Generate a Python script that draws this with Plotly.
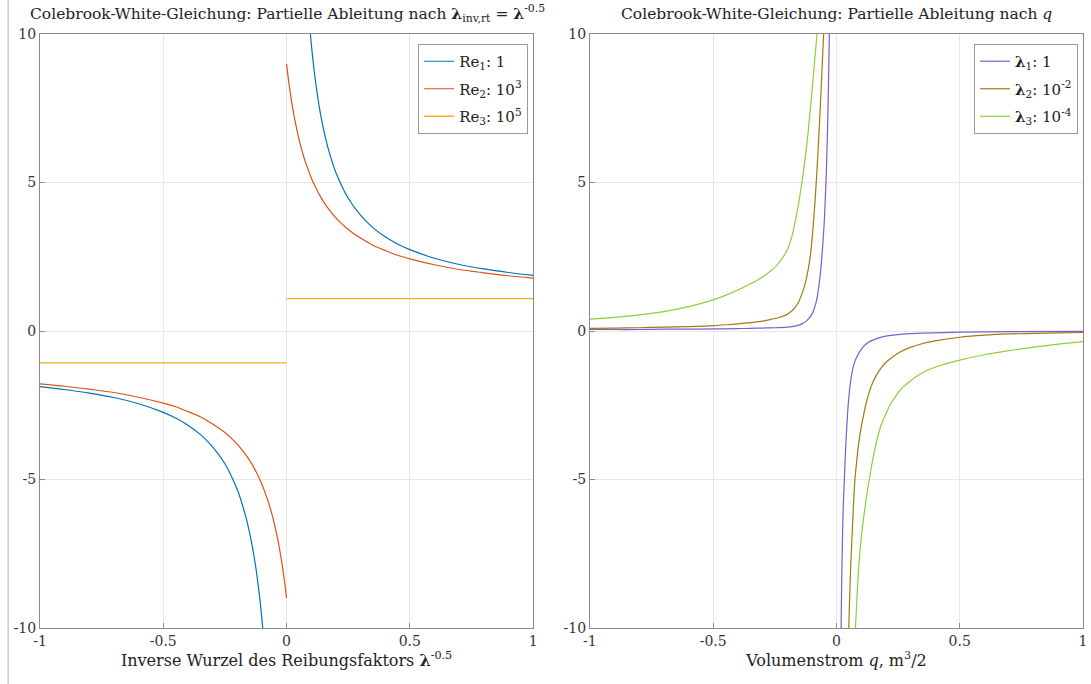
import plotly.graph_objects as go

# ---------------- data ----------------
# left panel: partial derivative w.r.t. lambda^-0.5
re1_x_pos = [0.085, 0.09, 0.1, 0.11, 0.12, 0.13, 0.14, 0.16, 0.18, 0.2, 0.25, 0.3, 0.35, 0.4, 0.45, 0.5, 0.6, 0.7, 0.8, 0.9, 1.0]
re1_y_pos = [11.22, 10.65, 9.69, 8.90, 8.24, 7.68, 7.20, 6.43, 5.83, 5.34, 4.47, 3.90, 3.48, 3.17, 2.93, 2.74, 2.45, 2.24, 2.09, 1.97, 1.87]
re1_x_neg = [-1.0, -0.9, -0.8, -0.7, -0.6, -0.5, -0.45, -0.4, -0.35, -0.3, -0.25, -0.2, -0.18, -0.16, -0.14, -0.13, -0.12, -0.11, -0.1, -0.09, -0.085]
re1_y_neg = [-1.87, -1.97, -2.09, -2.24, -2.45, -2.74, -2.93, -3.17, -3.48, -3.90, -4.47, -5.34, -5.83, -6.43, -7.20, -7.68, -8.24, -8.90, -9.69, -10.65, -11.22]

re2_x_pos = [0.0, 0.005, 0.01, 0.02, 0.03, 0.04, 0.05, 0.06, 0.07, 0.08, 0.1, 0.12, 0.14, 0.16, 0.18, 0.2, 0.25, 0.3, 0.35, 0.4, 0.45, 0.5, 0.6, 0.7, 0.8, 0.9, 1.0]
re2_y_pos = [9.00, 8.65, 8.32, 7.75, 7.27, 6.85, 6.48, 6.15, 5.86, 5.61, 5.16, 4.80, 4.49, 4.23, 4.01, 3.81, 3.42, 3.13, 2.89, 2.71, 2.55, 2.43, 2.23, 2.07, 1.96, 1.86, 1.78]
re2_x_neg = [-1.0, -0.9, -0.8, -0.7, -0.6, -0.5, -0.45, -0.4, -0.35, -0.3, -0.25, -0.2, -0.18, -0.16, -0.14, -0.12, -0.1, -0.08, -0.07, -0.06, -0.05, -0.04, -0.03, -0.02, -0.01, -0.005, 0.0]
re2_y_neg = [-1.78, -1.86, -1.96, -2.07, -2.23, -2.43, -2.55, -2.71, -2.89, -3.13, -3.42, -3.81, -4.01, -4.23, -4.49, -4.80, -5.16, -5.61, -5.86, -6.15, -6.48, -6.85, -7.27, -7.75, -8.32, -8.65, -9.00]

re3_x_neg = [-1.0, -0.5, 0.0]
re3_y_neg = [-1.07, -1.07, -1.07]
re3_x_pos = [0.0, 0.5, 1.0]
re3_y_pos = [1.09, 1.09, 1.09]

# right panel: partial derivative w.r.t. q
l1_x_neg = [-1.0, -0.9, -0.8, -0.7, -0.6, -0.5, -0.4, -0.35, -0.3, -0.25, -0.2, -0.18, -0.16, -0.14, -0.12, -0.11, -0.1, -0.09, -0.08, -0.075, -0.07, -0.065, -0.06, -0.055, -0.05, -0.045, -0.04, -0.035, -0.03, -0.027]
l1_y_neg = [0.05, 0.05, 0.05, 0.06, 0.06, 0.07, 0.08, 0.09, 0.10, 0.11, 0.13, 0.15, 0.18, 0.24, 0.35, 0.44, 0.56, 0.76, 1.05, 1.30, 1.60, 1.95, 2.40, 2.95, 3.60, 4.50, 5.60, 7.20, 9.40, 11.2]
l1_x_pos = [0.017, 0.019, 0.021, 0.023, 0.026, 0.029, 0.032, 0.036, 0.04, 0.045, 0.05, 0.055, 0.06, 0.07, 0.08, 0.093, 0.11, 0.13, 0.15, 0.19, 0.25, 0.3, 0.35, 0.5, 0.7, 1.0]
l1_y_pos = [-11.5, -10.0, -8.6, -7.6, -6.4, -5.6, -5.0, -4.2, -3.5, -2.8, -2.25, -1.85, -1.55, -1.15, -0.92, -0.72, -0.52, -0.38, -0.30, -0.19, -0.12, -0.09, -0.07, -0.04, -0.02, -0.01]

l2_x_neg = [-1.0, -0.9, -0.8, -0.7, -0.6, -0.5, -0.45, -0.4, -0.35, -0.3, -0.27, -0.25, -0.22, -0.2, -0.18, -0.167, -0.155, -0.14, -0.13, -0.12, -0.113, -0.105, -0.097, -0.09, -0.082, -0.076, -0.07, -0.064, -0.058, -0.052, -0.048]
l2_y_neg = [0.09, 0.10, 0.11, 0.13, 0.15, 0.18, 0.21, 0.24, 0.28, 0.33, 0.38, 0.42, 0.49, 0.56, 0.68, 0.80, 0.95, 1.25, 1.50, 1.85, 2.14, 2.60, 3.27, 4.00, 5.00, 5.85, 6.80, 7.80, 8.90, 10.0, 10.8]
l2_x_pos = [0.048, 0.05, 0.055, 0.06, 0.065, 0.07, 0.075, 0.082, 0.09, 0.1, 0.106, 0.12, 0.14, 0.16, 0.18, 0.2, 0.23, 0.26, 0.3, 0.35, 0.4, 0.5, 0.6, 0.7, 0.8, 0.9, 1.0]
l2_y_pos = [-10.8, -10.0, -8.6, -7.5, -6.6, -5.7, -5.0, -4.4, -3.8, -3.25, -3.0, -2.45, -1.88, -1.52, -1.26, -1.06, -0.86, -0.70, -0.55, -0.42, -0.33, -0.21, -0.14, -0.10, -0.08, -0.06, -0.05]

l3_x_neg = [-1.0, -0.9, -0.8, -0.7, -0.6, -0.5, -0.45, -0.4, -0.35, -0.3, -0.25, -0.22, -0.2, -0.18, -0.16, -0.14, -0.12, -0.113, -0.1, -0.09, -0.078, -0.07]
l3_y_neg = [0.40, 0.46, 0.54, 0.65, 0.82, 1.05, 1.20, 1.38, 1.58, 1.82, 2.14, 2.45, 2.72, 3.20, 4.00, 5.00, 6.30, 6.85, 8.00, 8.95, 10.1, 11.0]
l3_x_pos = [0.07, 0.077, 0.085, 0.09, 0.1, 0.115, 0.133, 0.155, 0.18, 0.2, 0.22, 0.25, 0.268, 0.3, 0.33, 0.369, 0.42, 0.5, 0.6, 0.7, 0.8, 0.9, 1.0]
l3_y_pos = [-11.0, -10.0, -8.7, -8.0, -7.0, -6.0, -5.0, -4.0, -3.2, -2.8, -2.45, -2.08, -1.90, -1.68, -1.50, -1.32, -1.16, -0.98, -0.80, -0.66, -0.54, -0.44, -0.36]

left_names = ["Re<sub>1</sub>: 1", "Re<sub>2</sub>: 10<sup>3</sup>", "Re<sub>3</sub>: 10<sup>5</sup>"]
right_names = ["<b>λ</b><sub>1</sub>: 1", "<b>λ</b><sub>2</sub>: 10<sup>-2</sup>", "<b>λ</b><sub>3</sub>: 10<sup>-4</sup>"]

x_ticks = [-1, -0.5, 0, 0.5, 1]
x_ticktext = ["-1", "-0.5", "0", "0.5", "1"]
y_ticks = [-10, -5, 0, 5, 10]
y_ticktext = ["-10", "-5", "0", "5", "10"]

left_colors = ["#0072BD", "#D95319", "#EDB120"]
right_colors = ["#7B5FCB", "#A07A10", "#8CCF3A"]

FONT = "DejaVu Serif"

fig = go.Figure()

def add_curve(xn, yn, xp, yp, name, color, xa, ya, legend, group, shape="spline", width=1.2):
    x = list(xn) + [None] + list(xp)
    y = list(yn) + [None] + list(yp)
    line = dict(color=color, width=width, shape=shape)
    if shape == "spline":
        line["smoothing"] = 0.8
    fig.add_trace(go.Scatter(x=x, y=y, mode="lines", name=name, line=line,
                             connectgaps=False, xaxis=xa, yaxis=ya, legend=legend,
                             legendgroup=group))

add_curve(re1_x_neg, re1_y_neg, re1_x_pos, re1_y_pos, left_names[0], left_colors[0], "x", "y", "legend", "a")
add_curve(re2_x_neg, re2_y_neg, re2_x_pos, re2_y_pos, left_names[1], left_colors[1], "x", "y", "legend", "b")
add_curve(re3_x_neg, re3_y_neg, re3_x_pos, re3_y_pos, left_names[2], left_colors[2], "x", "y", "legend", "c",
          shape="linear", width=1.3)

add_curve(l1_x_neg, l1_y_neg, l1_x_pos, l1_y_pos, right_names[0], right_colors[0], "x2", "y2", "legend2", "d")
add_curve(l2_x_neg, l2_y_neg, l2_x_pos, l2_y_pos, right_names[1], right_colors[1], "x2", "y2", "legend2", "e")
add_curve(l3_x_neg, l3_y_neg, l3_x_pos, l3_y_pos, right_names[2], right_colors[2], "x2", "y2", "legend2", "f")

W, H = 1091, 684
ml, mr, mt, mb = 40, 4, 34, 56
pw = W - ml - mr
ph = H - mt - mb
left_dom = [0, (535 - 40) / pw]
right_dom = [(592 - 40) / pw, 1]

axis_common = dict(showline=True, mirror=True, linecolor="#8a8a8a", linewidth=1,
                   ticks="inside", ticklen=5, tickcolor="#8a8a8a",
                   showgrid=True, gridcolor="#e8e8e8", gridwidth=1, zeroline=False,
                   tickfont=dict(family=FONT, size=14, color="#333333"))

legend_common = dict(yanchor="top", xanchor="right", bgcolor="white", bordercolor="#9a9a9a",
                     borderwidth=1, font=dict(family=FONT, size=15, color="#222222"),
                     itemwidth=30, tracegroupgap=5)

fig.update_layout(
    width=W, height=H,
    margin=dict(l=ml, r=mr, t=mt, b=mb),
    plot_bgcolor="white", paper_bgcolor="white",
    font=dict(family=FONT, color="#222222"),
    xaxis=dict(domain=left_dom, range=[-1, 1], tickvals=x_ticks, ticktext=x_ticktext,
               anchor="y",
               title=dict(text="Inverse Wurzel des Reibungsfaktors <b>λ</b><sup>-0.5</sup>",
                          font=dict(family=FONT, size=16, color="#222222"), standoff=2),
               **axis_common),
    yaxis=dict(domain=[0, 1], range=[-10, 10], tickvals=y_ticks, ticktext=y_ticktext,
               anchor="x", **axis_common),
    xaxis2=dict(domain=right_dom, range=[-1, 1], tickvals=x_ticks, ticktext=x_ticktext,
                anchor="y2",
                title=dict(text="Volumenstrom <i>q</i>, m<sup>3</sup>/2",
                           font=dict(family=FONT, size=16, color="#222222"), standoff=2),
                **axis_common),
    yaxis2=dict(domain=[0, 1], range=[-10, 10], tickvals=y_ticks, ticktext=y_ticktext,
                anchor="x2", **axis_common),
    legend=dict(x=(530 - 40) / pw, y=1 - (44 - 34) / ph, **legend_common),
    legend2=dict(x=(1082 - 40) / pw, y=1 - (44 - 34) / ph, **legend_common),
    showlegend=True,
)

fig.add_annotation(text="Colebrook-White-Gleichung: Partielle Ableitung nach <b>λ</b><sub>inv,rt</sub> = <b>λ</b><sup>-0.5</sup>",
                   xref="paper", yref="paper", x=(288 - 40) / pw, y=1 + 20 / ph,
                   xanchor="center", yanchor="middle", showarrow=False,
                   font=dict(family=FONT, size=15.5, color="#222222"))
fig.add_annotation(text="Colebrook-White-Gleichung: Partielle Ableitung nach <i>q</i>",
                   xref="paper", yref="paper", x=(840 - 40) / pw, y=1 + 20 / ph,
                   xanchor="center", yanchor="middle", showarrow=False,
                   font=dict(family=FONT, size=15.5, color="#222222"))

fig.add_shape(type="line", xref="paper", yref="paper",
              x0=(8 - 40) / pw, x1=(8 - 40) / pw, y0=-mb / ph, y1=1 + mt / ph,
              line=dict(color="#b0b0b0", width=1))

fig.write_html("out.html")
